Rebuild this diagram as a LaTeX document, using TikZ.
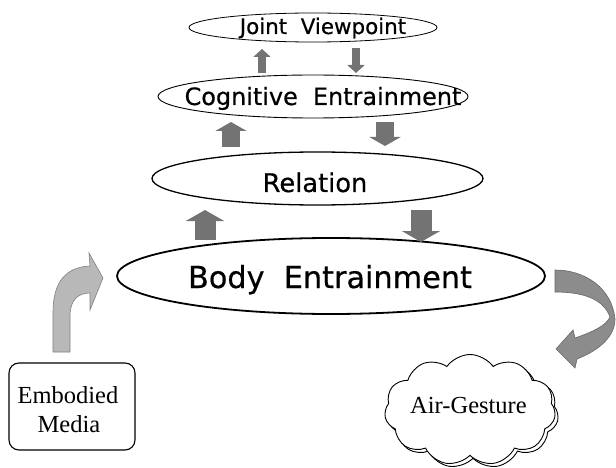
\documentclass[tikz,border=0pt]{standalone}
\usepackage{fontspec}
\setmainfont{Liberation Serif}
\newfontfamily\gothic{DejaVu Sans}[FakeBold=0.5]
\usetikzlibrary{shapes.geometric,shapes.symbols,arrows.meta}
\begin{document}
\begin{tikzpicture}[x=1pt,y=-1pt,
  oval/.style={ellipse, draw=black, inner sep=0pt, fill=white},
  otext/.style={anchor=base, inner sep=0pt, font=\gothic\fontsize{#1}{#1}\selectfont},
  stext/.style={anchor=base, inner sep=0pt, font=\fontsize{24.5}{29}\selectfont},
  blk/.style={draw=black!55, line cap=butt},
  sarrow/.style={blk, line width=8pt, -{Triangle[width=17pt,length=8pt]}},
  marrow/.style={blk, line width=18pt, -{Triangle[width=31pt,length=9pt]}},
  larrow/.style={blk, line width=21pt, -{Triangle[width=38pt,length=11pt]}},
  bentl/.style={fill=black!28, draw=black!50, line width=0.6pt},
  bentr/.style={fill=black!45, draw=black!60, line width=0.6pt},
  cloudbox/.style={cloud, cloud puffs=11, cloud puff arc=110, cloud ignores aspect,
    minimum width=171pt, minimum height=111pt, draw=black, fill=white, line width=0.9pt, inner sep=0pt}]
\useasboundingbox (0,0) rectangle (616,468);

% ellipses
\node[oval, line width=0.8pt, minimum width=248pt, minimum height=29pt] (jv) at (313,27.5) {};
\node[otext=21.4] (jvt) at (323,34) {Joint\ \ Viewpoint};
\node[oval, line width=0.9pt, minimum width=310pt, minimum height=43pt] (ce) at (313,96.5) {};
\node[otext=23.9] (cet) at (323,105) {Cognitive\ \ Entrainment};
\node[oval, line width=1.3pt, minimum width=331pt, minimum height=53pt] (rel) at (317.5,178.5) {};
\node[otext=25.7] (relt) at (315,192) {Relation};
\node[oval, line width=1.8pt, minimum width=428pt, minimum height=76pt] (body) at (331,276) {};
\node[otext=30.3] (bodyt) at (330,288) {Body\ \ Entrainment};

% block arrows between levels
\draw[sarrow] (262,73) -- (262,49);
\draw[sarrow] (356,48) -- (356,73);
\draw[marrow] (231,147) -- (231,122);
\draw[marrow] (385,122) -- (385,146);
\draw[larrow] (205,240) -- (205,210);
\draw[larrow] (421,210) -- (421,242);

% embodied media box
\node[draw=black, line width=1.1pt, rounded corners=10pt, minimum width=126pt, minimum height=87pt, inner sep=0pt] (em) at (72,406.5) {};
\node[stext] (emt1) at (68,403) {Embodied};
\node[stext] (emt2) at (69,432) {Media};

% left bent arrow
\draw[bentl] (53,352) -- (53,312) .. controls (53,282) and (66,267) .. (90,266)
  -- (89,253) -- (103,278) -- (90,310) -- (90,293)
  .. controls (78,293) and (70,300) .. (70,316) -- (70,352) -- cycle;

% right curved arrow
\draw[bentr] (555,270) .. controls (585,270) and (612,288) .. (615,319)
  .. controls (615,336) and (600,350) .. (577,359) -- (575,368) -- (556,349) -- (573,330) -- (575,338)
  .. controls (592,332) and (606,326) .. (610,317)
  .. controls (604,300) and (585,292) .. (555,292) -- cycle;

% cloud
\node[cloudbox] (ags) at (473,413) {};
\node[cloudbox] (ag) at (470,410) {};
\node[stext] (agt) at (468.5,413) {Air-Gesture};
\end{tikzpicture}
\end{document}
